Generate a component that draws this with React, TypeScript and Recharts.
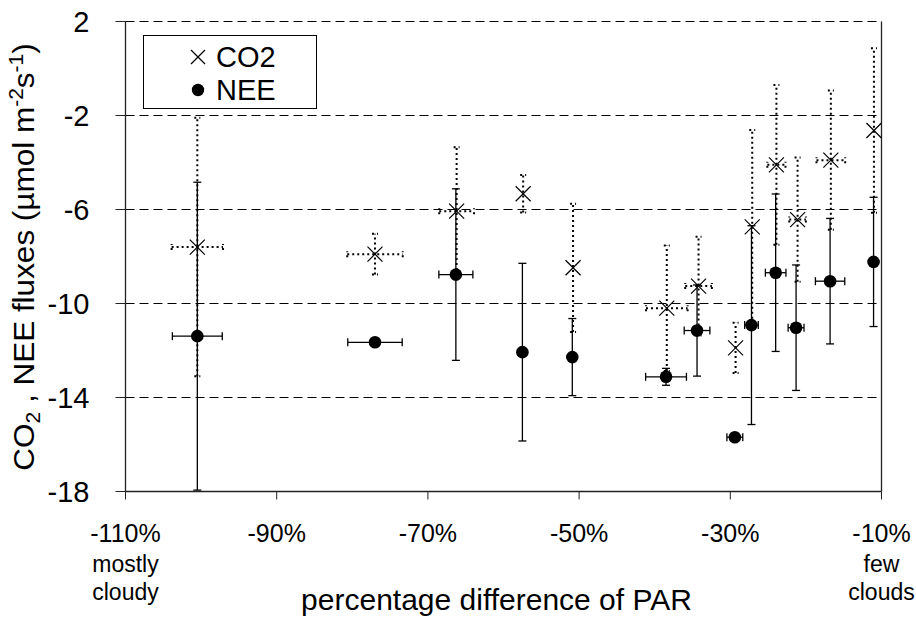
import React from 'react';
import {
  ScatterChart,
  Scatter,
  XAxis,
  YAxis,
  CartesianGrid,
  ErrorBar,
  ReferenceLine,
  Legend,
  Label,
} from 'recharts';

// ---- data ----
const co2X = [-100.5, -77.0, -66.2, -57.4, -50.8, -38.4, -34.2, -29.3, -27.1, -23.9, -21.1, -16.7, -11.0];
const co2Y = [-7.6, -7.9, -6.07, -5.33, -8.48, -10.2, -9.26, -11.89, -6.74, -4.1, -6.43, -3.9, -2.64];
const co2YErr = [5.5, 0.87, 2.72, 0.8, 2.73, 2.67, 2.1, 1.07, 4.12, 3.4, 2.64, 2.96, 3.5];
const co2XErr = [3.4, 3.67, 2.3, 0, 0, 2.75, 1.76, 0, 0, 1.2, 1.1, 1.9, 0];

const neeX = [-100.5, -77.0, -66.3, -57.5, -50.9, -38.5, -34.4, -29.4, -27.2, -24.0, -21.3, -16.8, -11.05];
const neeY = [-11.39, -11.65, -8.77, -12.07, -12.28, -13.12, -11.15, -15.69, -10.92, -8.69, -11.03, -9.05, -8.23];
const neeYErr = [6.55, 0.15, 3.65, 3.78, 1.64, 0.36, 1.94, 0, 4.23, 3.35, 2.67, 2.67, 2.75];
const neeXErr = [3.3, 3.6, 2.25, 0, 0, 2.7, 1.7, 1.05, 0.9, 1.36, 1.05, 1.94, 0];

const xTicks = [-110, -90, -70, -50, -30, -10];
const yTicks = [-18, -14, -10, -6, -2, 2];
const subLabelTicks = [-110, -10];
const subLabelLines = [
  ['mostly', 'cloudy'],
  ['few', 'clouds'],
];
const seriesNames = ['CO2', 'NEE'];

const co2Data = co2X.map((x, i) => ({ x, y: co2Y[i], ex: co2XErr[i], ey: co2YErr[i] }));
const neeData = neeX.map((x, i) => ({ x, y: neeY[i], ex: neeXErr[i], ey: neeYErr[i] }));

const FONT = '"Liberation Sans", Arial, Helvetica, sans-serif';

const CrossShape = (p: any) => {
  const { cx, cy } = p;
  const s = 7.5;
  return (
    <g>
      <line x1={cx - s} y1={cy - s} x2={cx + s} y2={cy + s} stroke="#000" strokeWidth={1.2} />
      <line x1={cx - s} y1={cy + s} x2={cx + s} y2={cy - s} stroke="#000" strokeWidth={1.2} />
    </g>
  );
};

const DotShape = (p: any) => <circle cx={p.cx} cy={p.cy} r={6.3} fill="#000" />;

const XTick = (p: any) => {
  const { x, y, payload } = p;
  const idx = subLabelTicks.indexOf(payload.value);
  return (
    <g>
      <text x={x} y={y + 42} textAnchor="middle" fontSize={25} fontFamily={FONT} fill="#000">
        {`${payload.value}%`}
      </text>
      {idx >= 0 &&
        subLabelLines[idx].map((t, k) => (
          <text key={k} x={x} y={y + 72 + k * 28} textAnchor="middle" fontSize={23} fontFamily={FONT} fill="#000">
            {t}
          </text>
        ))}
    </g>
  );
};

const YTick = (p: any) => {
  const { x, y, payload } = p;
  return (
    <text x={x - 12} y={y} dy={10} textAnchor="end" fontSize={29} fontFamily={FONT} fill="#000">
      {payload.value}
    </text>
  );
};

const YTitle = () => {
  const cx = 34;
  const cy = 257;
  return (
    <text
      x={0}
      y={0}
      textAnchor="middle"
      fontSize={31.5}
      fontFamily={FONT}
      fill="#000"
      transform={`translate(${cx}, ${cy}) scale(0.92, 1) rotate(-90)`}
    >
      <tspan>CO</tspan>
      <tspan fontSize={21} dy={7}>2</tspan>
      <tspan dy={-7}> , NEE fluxes (µmol m</tspan>
      <tspan fontSize={21} dy={-12}>-2</tspan>
      <tspan dy={12}>s</tspan>
      <tspan fontSize={21} dy={-12}>-1</tspan>
      <tspan dy={12}>)</tspan>
    </text>
  );
};

const XTitle = (p: any) => {
  const vb = p.viewBox || { x: 125, width: 757 };
  return (
    <text x={vb.x + vb.width / 2 - 7} y={610} textAnchor="middle" fontSize={30} fontFamily={FONT} fill="#000">
      percentage difference of PAR
    </text>
  );
};

const LegendBox = () => (
  <svg width={174} height={74} style={{ display: 'block' }}>
    <rect x={0.5} y={0.5} width={173} height={73} fill="#fff" stroke="#000" strokeWidth={1} />
    <line x1={48} y1={15} x2={62} y2={29} stroke="#000" strokeWidth={1.2} />
    <line x1={48} y1={29} x2={62} y2={15} stroke="#000" strokeWidth={1.2} />
    <text x={73} y={32} fontSize={29} fontFamily={FONT} fill="#000">{seriesNames[0]}</text>
    <circle cx={55} cy={55} r={6.2} fill="#000" />
    <text x={73} y={65} fontSize={29} fontFamily={FONT} fill="#000">{seriesNames[1]}</text>
  </svg>
);

export default function App() {
  return (
    <div style={{ position: 'absolute', left: 0, top: 0, width: 916, height: 620, background: '#fff' }}>
      <ScatterChart width={916} height={620} margin={{ top: 21.5, right: 34.5, bottom: 68.5, left: 0 }}>
        <CartesianGrid vertical={false} horizontal={true} stroke="#000" strokeDasharray="9 5" />
        <XAxis
          type="number"
          dataKey="x"
          domain={[-110, -10]}
          ticks={xTicks}
          interval={0}
          height={60}
          tickSize={8}
          tickMargin={0}
          tick={<XTick />}
          axisLine={{ stroke: '#222', strokeWidth: 1.3 }}
          tickLine={{ stroke: '#222' }}
          allowDataOverflow
        >
          <Label content={<XTitle />} />
        </XAxis>
        <YAxis
          type="number"
          dataKey="y"
          domain={[-18, 2]}
          ticks={yTicks}
          interval={0}
          width={125.5}
          tickSize={10}
          tickMargin={14}
          tick={<YTick />}
          axisLine={{ stroke: '#222', strokeWidth: 1.3 }}
          tickLine={{ stroke: '#222' }}
          allowDataOverflow
        >
          <Label content={<YTitle />} />
        </YAxis>
        <ReferenceLine x={-10} stroke="#222" strokeWidth={1.3} />
        <Legend
          layout="vertical"
          align="center"
          verticalAlign="middle"
          content={<LegendBox />}
          wrapperStyle={{ position: 'absolute', left: 143, top: 35, width: 174, height: 74 }}
        />
        <Scatter name={seriesNames[1]} data={neeData} shape={<DotShape />} isAnimationActive={false}>
          <ErrorBar dataKey="ey" direction="y" width={4} stroke="#000" strokeWidth={1.3} isAnimationActive={false} />
          <ErrorBar dataKey="ex" direction="x" width={4} stroke="#000" strokeWidth={1.3} isAnimationActive={false} />
        </Scatter>
        <Scatter name={seriesNames[0]} data={co2Data} shape={<CrossShape />} isAnimationActive={false}>
          <ErrorBar dataKey="ey" direction="y" width={3} stroke="#000" strokeWidth={2} strokeDasharray="2 3" isAnimationActive={false} />
          <ErrorBar dataKey="ex" direction="x" width={3} stroke="#000" strokeWidth={2} strokeDasharray="2 3" isAnimationActive={false} />
        </Scatter>
      </ScatterChart>
    </div>
  );
}
